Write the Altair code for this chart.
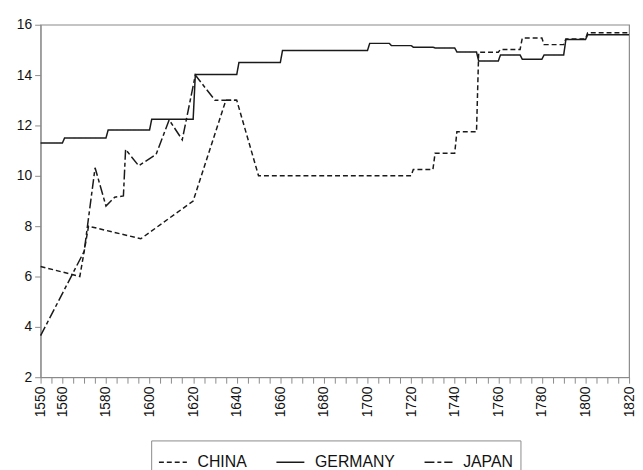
import altair as alt
import pandas as pd

countries = ["CHINA", "GERMANY", "JAPAN"]

china_years = [1550, 1568, 1572, 1596, 1620, 1635, 1640, 1650, 1720, 1721, 1730, 1731,
               1740, 1741, 1750, 1751, 1760, 1761, 1770, 1771, 1780, 1781, 1790, 1791,
               1800, 1801, 1820]
china_vals = [6.4, 6.0, 8.0, 7.5, 9.0, 13.0, 13.0, 10.0, 10.0, 10.25, 10.25, 10.9,
              10.9, 11.75, 11.75, 14.91, 14.91, 15.02, 15.02, 15.47, 15.47, 15.21, 15.21, 15.43,
              15.43, 15.68, 15.68]

germany_years = [1550, 1560, 1561, 1580, 1581, 1600, 1601, 1620, 1621, 1640, 1641, 1660,
                 1661, 1700, 1701, 1710, 1711, 1720, 1721, 1730, 1731, 1740, 1741, 1750,
                 1751, 1760, 1761, 1770, 1771, 1780, 1781, 1790, 1791, 1800, 1801, 1820]
germany_vals = [11.3, 11.3, 11.5, 11.5, 11.82, 11.82, 12.25, 12.25, 14.02, 14.02, 14.5, 14.5,
                14.98, 14.98, 15.26, 15.26, 15.17, 15.17, 15.11, 15.11, 15.08, 15.08, 14.92, 14.92,
                14.56, 14.56, 14.8, 14.8, 14.63, 14.63, 14.8, 14.8, 15.41, 15.41, 15.6, 15.6]

japan_years = [1550, 1570, 1575, 1580, 1584, 1588, 1589, 1595, 1603, 1609, 1615, 1621, 1630, 1640]
japan_vals = [3.65, 7.0, 10.32, 8.8, 9.15, 9.2, 11.05, 10.4, 10.85, 12.22, 11.43, 14.0, 13.0, 13.0]

x_tick_values = list(range(1550, 1821, 5))
y_tick_values = [2, 4, 6, 8, 10, 12, 14, 16]

rows = []
for name, yrs, vals in [("CHINA", china_years, china_vals),
                        ("GERMANY", germany_years, germany_vals),
                        ("JAPAN", japan_years, japan_vals)]:
    for yr, v in zip(yrs, vals):
        rows.append({"country": name, "year": yr, "value": v})
df = pd.DataFrame(rows)

font = "Liberation Sans"
axis_gray = "#8a8a8a"

chart = alt.Chart(df).mark_line(strokeWidth=1.5, color="#1a1a1a").encode(
    x=alt.X("year:Q",
            scale=alt.Scale(domain=[1550, 1820], nice=False, zero=False),
            axis=alt.Axis(values=x_tick_values, format="d",
                          labelExpr="(datum.value == 1550 || datum.value % 20 == 0) ? datum.label : ''",
                          labelAngle=-90, title=None, grid=False, tickSize=6,
                          labelPadding=3, labelFontSize=14, labelFont=font,
                          labelColor="#111", domainColor=axis_gray, tickColor=axis_gray,
                          labelOverlap=False, labelFlush=False)),
    y=alt.Y("value:Q",
            scale=alt.Scale(domain=[2, 16], nice=False, zero=False),
            axis=alt.Axis(values=y_tick_values, title=None, grid=False, tickSize=6,
                          labelPadding=3, labelFontSize=14, labelFont=font,
                          labelColor="#111", domainColor=axis_gray, tickColor=axis_gray)),
    strokeDash=alt.StrokeDash("country:N",
                              scale=alt.Scale(domain=countries,
                                              range=[[5, 3], [1, 0], [10, 3, 4, 3]]),
                              legend=alt.Legend(title=None, orient="none", legendX=112, legendY=421,
                                                direction="horizontal", symbolType="stroke",
                                                symbolSize=800, symbolStrokeWidth=1.5,
                                                symbolStrokeColor="#1a1a1a",
                                                labelFontSize=16, labelFont=font, labelColor="#111",
                                                strokeColor=axis_gray, padding=7,
                                                columnPadding=26, labelOffset=10)),
    order="year:Q",
).properties(
    width=596, height=357,
    autosize=alt.AutoSizeParams(type="none"),
    padding={"left": 33, "top": 14, "right": 6, "bottom": 91},
).configure_view(stroke=axis_gray, strokeWidth=1.2)

chart.save("out.html", embed_options={"renderer": "svg", "actions": False})
